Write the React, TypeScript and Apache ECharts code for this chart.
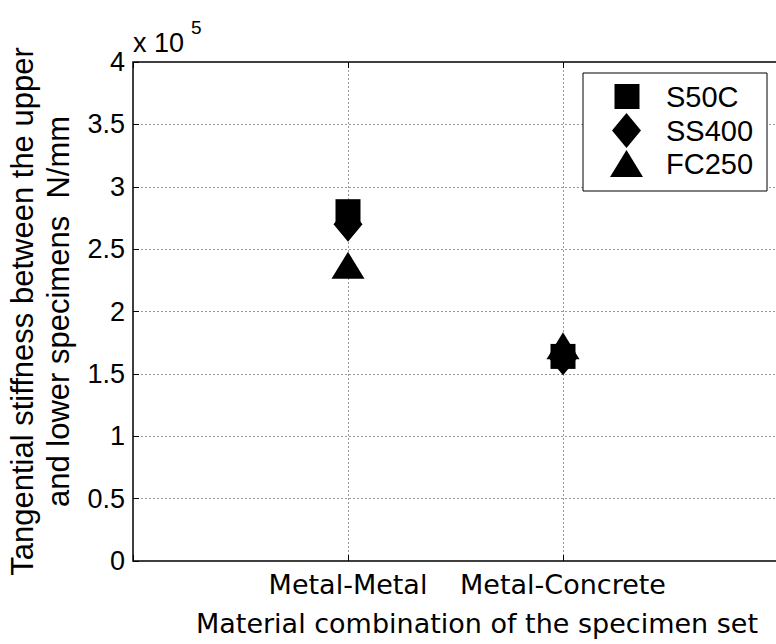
import React, { useEffect, useRef } from "react";
import * as echarts from "echarts";

// ---- data (values in units of 10^5 N/mm) ----
const categories = ["Metal-Metal", "Metal-Concrete"];
const categoryPositions = [1, 2];
const seriesNames = ["S50C", "SS400", "FC250"];
const s50c = [2.8, 1.64];
const ss400 = [2.7, 1.63];
const fc250 = [2.335, 1.69];
const yTickValues = [0, 0.5, 1, 1.5, 2, 2.5, 3, 3.5, 4];
const xTitle = "Material combination of the specimen set";
const yTitle = "Tangential stiffness between the upper\nand lower specimens  N/mm";
const exponentBase = "x 10";
const exponentPower = "5";

const SANS = "'Liberation Sans', Arial, sans-serif";
const GOTHIC = "'DejaVu Sans', sans-serif";

function toPoints(values: number[]) {
  return categoryPositions.map((x, i) => [x, values[i]]);
}

export default function App() {
  const ref = useRef<HTMLDivElement>(null);

  useEffect(() => {
    if (!ref.current) return;
    const chart = echarts.init(ref.current, undefined, { renderer: "svg" });

    const legendItem = (
      name: string,
      icon: string,
      w: number,
      h: number,
      iconLeft: number,
      iconTop: number,
      textLeftPad: number,
      textTopPad: number
    ) => {
      const lh = h;
      const top = iconTop + Math.min(0, h / 2 - (lh + textTopPad) / 2);
      return {
        data: [name],
        left: iconLeft,
        top,
        orient: "vertical",
        icon,
        itemWidth: w,
        itemHeight: h,
        padding: 0,
        selectedMode: false,
        z: 10,
        itemStyle: { color: "#000", opacity: 1 },
        textStyle: {
          fontFamily: SANS,
          fontSize: 29,
          color: "#000",
          lineHeight: lh,
          padding: [textTopPad, 0, 0, textLeftPad],
        },
      };
    };

    const tickStyle = { show: true, inside: true, length: 6, lineStyle: { color: "#000", width: 1 } };
    const gridLineStyle = { color: "#999", type: [2, 2], width: 1 };

    const option: any = {
      animation: false,
      backgroundColor: "#fff",
      grid: {
        left: 133,
        top: 62,
        width: 688,
        height: 499,
        outerBoundsMode: "none",
        containLabel: false,
        show: true,
        borderColor: "#000",
        borderWidth: 1.5,
        backgroundColor: "transparent",
      },
      xAxis: [
        {
          type: "value",
          min: 0,
          max: 3.2,
          interval: 1,
          position: "bottom",
          axisLine: { show: false },
          axisTick: tickStyle,
          axisLabel: {
            formatter: (v: number) => {
              const i = categoryPositions.indexOf(v);
              return i >= 0 ? categories[i] : "";
            },
            fontFamily: GOTHIC,
            fontSize: 27,
            color: "#000",
            margin: 10,
          },
          splitLine: { show: true, showMinLine: false, lineStyle: gridLineStyle },
          name: xTitle,
          nameLocation: "middle",
          nameGap: 49,
          nameTextStyle: { fontFamily: GOTHIC, fontSize: 27, color: "#000" },
        },
        {
          type: "value",
          min: 0,
          max: 3.2,
          interval: 1,
          position: "top",
          axisLine: { show: false },
          axisTick: tickStyle,
          axisLabel: { show: false },
          splitLine: { show: false },
        },
      ],
      yAxis: [
        {
          type: "value",
          min: 0,
          max: 4,
          interval: 0.5,
          axisLine: { show: false },
          axisTick: tickStyle,
          axisLabel: {
            fontFamily: SANS,
            fontSize: 27,
            color: "#000",
            margin: 8,
            formatter: (v: number) => (yTickValues.indexOf(v) >= 0 ? String(v) : ""),
          },
          splitLine: { show: true, showMinLine: false, showMaxLine: false, lineStyle: gridLineStyle },
          name: yTitle,
          nameLocation: "middle",
          nameRotate: 90,
          nameGap: 56,
          nameTextStyle: { fontFamily: SANS, fontSize: 31, lineHeight: 36, color: "#000" },
        },
      ],
      legend: [
        legendItem(seriesNames[0], "rect", 25, 25, 614.5, 82, 21.5, 0),
        legendItem(seriesNames[1], "diamond", 29, 35, 612, 113, 20, 0),
        legendItem(seriesNames[2], "triangle", 33, 27, 610, 150, 18, 16),
      ],
      graphic: [
        {
          type: "rect",
          z: 5,
          shape: { x: 583, y: 73, width: 184, height: 118 },
          style: { fill: "#fff", stroke: "#000", lineWidth: 1 },
        },
        {
          type: "text",
          z: 10,
          x: 133,
          y: 43,
          style: { text: exponentBase, font: `27px ${SANS}`, fill: "#000", verticalAlign: "middle", align: "left" },
        },
        {
          type: "text",
          z: 10,
          x: 191,
          y: 27,
          style: { text: exponentPower, font: `19px ${SANS}`, fill: "#000", verticalAlign: "middle", align: "left" },
        },
      ],
      series: [
        {
          type: "scatter",
          name: seriesNames[0],
          data: toPoints(s50c),
          symbol: "rect",
          symbolSize: [25, 25],
          itemStyle: { color: "#000", opacity: 1 },
          z: 3,
        },
        {
          type: "scatter",
          name: seriesNames[1],
          data: toPoints(ss400),
          symbol: "diamond",
          symbolSize: [29, 35],
          itemStyle: { color: "#000", opacity: 1 },
          z: 3,
        },
        {
          type: "scatter",
          name: seriesNames[2],
          data: toPoints(fc250),
          symbol: "triangle",
          symbolSize: [33, 27],
          symbolOffset: [0, -4.5],
          itemStyle: { color: "#000", opacity: 1 },
          z: 3,
        },
      ],
    };

    chart.setOption(option);
    return () => chart.dispose();
  }, []);

  return (
    <div
      ref={ref}
      style={{ position: "absolute", left: 0, top: 0, width: 776, height: 644, background: "#fff" }}
    />
  );
}
